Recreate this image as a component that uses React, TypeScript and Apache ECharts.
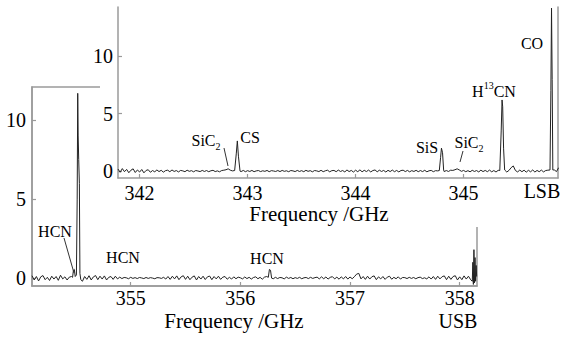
import React, { useEffect, useRef } from "react";
import * as echarts from "echarts";

// ---------- DATA ----------
// LSB (upper panel) baseline: frequencies start at 341.80 GHz, step 0.02 GHz
const lsbStart = 341.8;
const lsbStep = 0.02;
const lsbBaseline = [
  0.18, -0.1, 0.22, -0.05, 0.15, -0.14, 0.08, 0.2, -0.12, 0.1,
  -0.08, 0.14, -0.15, 0.06, 0.12, -0.1, 0.05, -0.06, 0.1, -0.04,
  0.07, -0.09, 0.04, 0.08, -0.05, 0.1, -0.03, 0.05, -0.07, 0.06,
  0.02, -0.05, 0.08, -0.02, 0.04, -0.06, 0.05, 0.01, -0.04, 0.06,
  -0.03, 0.05, -0.05, 0.03, 0.07, -0.04, 0.02, -0.06, 0.05, 0.08,
  0.12, 0.2, 0.08, 0.02, 0, 0, 0, -0.04, 0.06, -0.05,
  0.04, -0.03, 0.06, -0.05, 0.02, 0.05, -0.04, 0.03, -0.02, 0.06,
  -0.05, 0.04, 0.01, -0.03, 0.05, -0.04, 0.06, -0.02, 0.03, -0.05,
  0.05, 0.02, -0.04, 0.06, -0.03, 0.04, -0.05, 0.07, -0.02, 0.04,
  -0.06, 0.05, 0.02, -0.04, 0.07, -0.05, 0.03, 0.08, -0.06, 0.04,
  0.06, -0.05, 0.09, -0.03, 0.05, -0.07, 0.1, -0.04, 0.06, -0.08,
  0.08, -0.05, 0.11, -0.06, 0.07, -0.04, 0.09, -0.07, 0.05, 0.1,
  -0.06, 0.08, -0.03, 0.06, -0.08, 0.07, -0.04, 0.09, -0.05, 0.06,
  -0.07, 0.05, 0.08, -0.04, 0.06, -0.06, 0.04, -0.03, 0.07, -0.05,
  0.05, -0.04, 0.07, -0.06, 0.03, 0.06, -0.05, 0.04, 0.02, 0,
  0, -0.04, 0.05, -0.03, 0.08, 0.06, 0.12, 0.2, 0.1, -0.02,
  0.06, -0.05, 0.04, -0.06, 0.07, -0.03, 0.05, -0.07, 0.08, -0.04,
  0.06, -0.05, 0.09, -0.06, 0.05, -0.08, 0.07, -0.03, 0, 0,
  -0.08, 0.06, 0.3, 0.45, 0.05, -0.07, 0.09, -0.05, 0.08, -0.09,
  0.07, -0.06, 0.1, -0.08, 0.06, -0.05, 0.09, -0.07, 0.05, 0.08,
  0, -0.06, 0.1, -0.04, 0.3,
];
// LSB lines: [frequency GHz, intensity]
const lsbCS = [[342.88, 0.05], [342.895, 1.5], [342.905, 2.63], [342.915, 1.3], [342.93, 0.0]];
const lsbSiS = [[344.775, 0.05], [344.787, 1.2], [344.795, 2.0], [344.805, 1.6], [344.815, 0.1]];
const lsbH13CN = [[345.335, 0.05], [345.348, 3.5], [345.356, 6.2], [345.362, 5.6], [345.37, 2.0], [345.38, 0.1]];
const lsbCO = [[345.8, 0.1], [345.808, 7.0], [345.814, 14.2], [345.82, 8.0], [345.826, 0.1]];

// USB (lower panel) baseline: frequencies start at 354.10 GHz, step 0.02 GHz
const usbStart = 354.1;
const usbStep = 0.02;
const usbBaseline = [
  0.15, -0.12, 0.1, -0.18, 0.08, 0.16, -0.1, 0.05, -0.15, 0.12,
  -0.06, 0.1, -0.14, 0.18, -0.05, 0.08, -0.12, 0.06, 0.1, 0,
  0, 0, 0, -0.2, 0.1, -0.08, 0.15, -0.12, 0.08, 0.16,
  -0.1, 0.12, -0.06, 0.14, -0.12, 0.05, 0.1, -0.08, 0.12, -0.05,
  0.06, -0.03, 0.04, 0.02, -0.04, 0.05, -0.02, 0.03, -0.03, 0.04,
  0.01, -0.03, 0.04, -0.02, 0.03, 0.0, -0.04, 0.03, 0.02, -0.02,
  0.05, -0.06, 0.1, -0.08, 0.12, -0.05, 0.14, -0.1, 0.08, 0.15,
  -0.08, 0.12, -0.1, 0.06, 0.14, -0.12, 0.1, -0.06, 0.12, -0.09,
  0.08, 0.13, -0.1, 0.1, -0.05, 0.12, -0.08, 0.06, 0.1, -0.07,
  0.05, -0.06, 0.08, -0.04, 0.06, 0.02, -0.05, 0.07, -0.03, 0.05,
  -0.06, 0.04, 0.08, -0.04, 0.05, -0.07, 0.06, 0.1, 0, 0.12,
  -0.04, 0.05, -0.03, 0.04, 0.02, -0.05, 0.06, -0.02, 0.04, -0.04,
  0.03, -0.02, 0.05, -0.04, 0.02, 0.04, -0.03, 0.05, -0.02, 0.03,
  0.06, -0.05, 0.08, -0.04, 0.07, -0.06, 0.05, 0.09, -0.05, 0.06,
  -0.07, 0.08, -0.05, 0.1, -0.06, 0.07, -0.04, 0.09, 0.25, 0.3,
  -0.05, 0.1, -0.08, 0.12, -0.06, 0.09, 0.14, -0.1, 0.08, -0.05,
  0.1, -0.08, 0.06, 0.12, -0.07, 0.05, -0.04, 0.08, -0.06, 0.04,
  0.03, -0.03, 0.05, -0.02, 0.04, -0.04, 0.03, 0.06, -0.03, 0.02,
  -0.05, 0.08, -0.06, 0.1, -0.08, 0.12, -0.05, 0.09, 0.14, -0.1,
  0.12, -0.08, 0.1, 0.15, -0.12, 0.08, -0.1, 0.14, -0.06, 0.12,
  -0.1, 0, 0,
];
const usbHCNmain = [
  [354.47, 0.05], [354.478, 0.5], [354.486, 0.55], [354.494, 0.1], [354.505, 0.2],
  [354.512, 5.0], [354.517, 11.7], [354.521, 9.0], [354.526, 7.5], [354.532, 6.0],
  [354.537, 0.3], [354.545, -0.1],
];
const usbHCNweak = [[356.255, 0.05], [356.265, 0.55], [356.275, 0.5], [356.285, 0.0]];
const usbEdge = [
  [358.115, -0.2], [358.12, 1.0], [358.125, -0.4], [358.13, 1.8], [358.135, -0.3],
  [358.14, 1.3], [358.145, -0.2], [358.15, 0.8], [358.155, 0.1],
];

const lsbTicks = [342, 343, 344, 345];
const usbTicks = [355, 356, 357, 358];
const yTicks = [0, 5, 10];

// ---------- BUILD ----------
function buildSpectrum(start: number, step: number, base: number[], lines: number[][][]) {
  const spans = lines.map((l) => [l[0][0], l[l.length - 1][0]]);
  const pts: number[][] = [];
  base.forEach((v, i) => {
    const f = +(start + i * step).toFixed(4);
    if (!spans.some(([a, b]) => f >= a && f <= b)) pts.push([f, v]);
  });
  lines.forEach((l) => l.forEach((p) => pts.push([p[0], p[1]])));
  pts.sort((a, b) => a[0] - b[0]);
  return pts;
}

const SERIF = "Liberation Serif";
const AXIS_COLOR = "#9a9a9a";
const TEXT_COLOR = "#000";

function axisCommon(ticks: number[], margin: number, z: number) {
  return {
    type: "value",
    z,
    splitLine: { show: false },
    axisLine: { show: true, onZero: false, lineStyle: { color: AXIS_COLOR, width: 1.5 } },
    axisTick: { show: true, inside: true, length: 4, customValues: ticks, lineStyle: { color: AXIS_COLOR, width: 1.2 } },
    axisLabel: { customValues: ticks, fontSize: 20, fontFamily: SERIF, color: TEXT_COLOR, margin },
  };
}

function label(text: string, x: number, y: number, size: number, z: number, rich?: any) {
  return {
    type: "text",
    z,
    silent: true,
    style: {
      text,
      x,
      y,
      fill: TEXT_COLOR,
      fontSize: size,
      fontFamily: SERIF,
      align: "center",
      verticalAlign: "middle",
      textAlign: "center",
      textVerticalAlign: "middle",
      ...(rich ? { rich, lineHeight: size + 6 } : {}),
    },
  };
}

function pointer(x1: number, y1: number, x2: number, y2: number, z: number) {
  return { type: "line", z, silent: true, shape: { x1, y1, x2, y2 }, style: { stroke: "#333", lineWidth: 1 } };
}

const subRich = { s: { fontSize: 10, fontFamily: SERIF, fill: TEXT_COLOR, color: TEXT_COLOR, verticalAlign: "bottom", lineHeight: 12 } };
const supRich = { p: { fontSize: 10, fontFamily: SERIF, fill: TEXT_COLOR, color: TEXT_COLOR, verticalAlign: "top", lineHeight: 12 } };

export default function App() {
  const ref = useRef<HTMLDivElement>(null);
  useEffect(() => {
    if (!ref.current) return;
    const chart = echarts.init(ref.current, undefined, { renderer: "svg" });
    const lsbData = buildSpectrum(lsbStart, lsbStep, lsbBaseline, [lsbCS, lsbSiS, lsbH13CN, lsbCO]);
    const usbData = buildSpectrum(usbStart, usbStep, usbBaseline, [usbHCNmain, usbHCNweak, usbEdge]);
    const option: any = {
      animation: false,
      grid: [
        { left: 118, top: 7, width: 440, height: 171, z: 6, outerBoundsMode: "none", containLabel: false },
        {
          left: 32, top: 87, width: 445, height: 199, show: true, z: 0,
          borderColor: AXIS_COLOR, borderWidth: 1.5, backgroundColor: "transparent",
          outerBoundsMode: "none", containLabel: false,
        },
      ],
      xAxis: [
        { ...axisCommon(lsbTicks, 5, 6), gridIndex: 0, min: 341.8, max: 345.874 },
        { ...axisCommon(usbTicks, 2, 0), gridIndex: 1, min: 354.1, max: 358.158 },
      ],
      yAxis: [
        { ...axisCommon(yTicks, 5, 6), gridIndex: 0, min: -0.6, max: 14.3 },
        { ...axisCommon(yTicks, 6, 0), gridIndex: 1, min: -0.5, max: 12.1 },
        {
          type: "value", gridIndex: 0, position: "right", min: -0.6, max: 14.3, z: 6,
          splitLine: { show: false }, axisTick: { show: false }, axisLabel: { show: false },
          axisLine: { show: true, onZero: false, lineStyle: { color: AXIS_COLOR, width: 1.5 } },
        },
      ],
      series: [
        {
          type: "line", xAxisIndex: 0, yAxisIndex: 0, data: lsbData, symbol: "none", z: 7,
          lineStyle: { color: "#222", width: 1 },
        },
        {
          type: "line", xAxisIndex: 1, yAxisIndex: 1, data: usbData, symbol: "none", z: 2,
          lineStyle: { color: "#222", width: 1 },
        },
      ],
      graphic: [
        // white mask so upper panel sits over lower panel
        { type: "rect", z: 5, silent: true, shape: { x: 100, y: 0, width: 462, height: 227 }, style: { fill: "#fff" } },
        // upper panel labels
        label("SiC{s|2}", 206, 140, 16, 8, subRich),
        pointer(224, 148, 228, 166, 8),
        label("CS", 250, 137, 16, 8),
        label("SiS", 427, 147, 16, 8),
        label("SiC{s|2}", 469, 142, 16, 8, subRich),
        pointer(463, 151, 460, 162, 8),
        label("H{p|13}CN", 494, 91, 16, 8, supRich),
        label("CO", 532, 43, 16, 8),
        label("LSB", 542, 191, 20, 8),
        label("Frequency /GHz", 319, 214, 21, 8),
        // lower panel labels
        label("HCN", 55, 231, 16, 3),
        pointer(64, 238, 74, 273, 3),
        label("HCN", 123, 257, 16, 3),
        label("HCN", 267, 258, 16, 3),
        label("Frequency /GHz", 234, 321, 21, 3),
        label("USB", 458, 321, 20, 3),
      ],
    };
    chart.setOption(option);
    return () => chart.dispose();
  }, []);
  return (
    <div
      ref={ref}
      style={{ position: "fixed", left: 0, top: 0, width: 562, height: 337, background: "#fff" }}
    />
  );
}
